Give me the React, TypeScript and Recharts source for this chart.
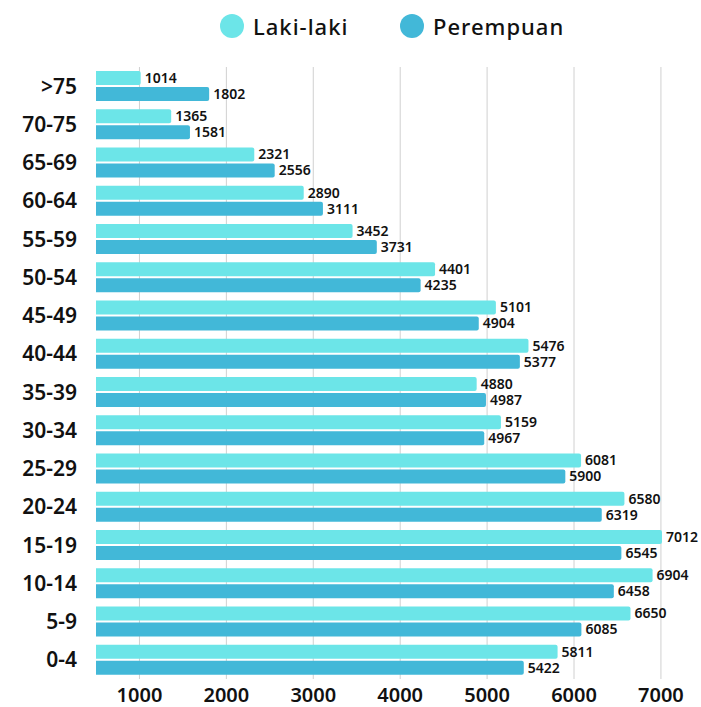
import React from "react";
import { BarChart, Bar, XAxis, YAxis, CartesianGrid, Legend, LabelList } from "recharts";

const categories = [">75", "70-75", "65-69", "60-64", "55-59", "50-54", "45-49", "40-44", "35-39", "30-34", "25-29", "20-24", "15-19", "10-14", "5-9", "0-4"];
const lakiLaki = [1014, 1365, 2321, 2890, 3452, 4401, 5101, 5476, 4880, 5159, 6081, 6580, 7012, 6904, 6650, 5811];
const perempuan = [1802, 1581, 2556, 3111, 3731, 4235, 4904, 5377, 4987, 4967, 5900, 6319, 6545, 6458, 6085, 5422];
const xTicks = [1000, 2000, 3000, 4000, 5000, 6000, 7000];

const data = categories.map((c, i) => ({ name: c, laki: lakiLaki[i], perempuan: perempuan[i] }));

const FONT = "'Noto Sans', sans-serif";
const LAKI_COLOR = "#6CE5E8";
const PEREMPUAN_COLOR = "#42B8D8";

const renderLegend = () => (
  <div style={{ position: "relative", fontFamily: FONT, fontSize: 22, fontWeight: 500, letterSpacing: 1, color: "#111", height: 50, width: 701 }}>
    <span style={{ position: "absolute", left: 220, top: 13, display: "inline-flex", alignItems: "center" }}>
      <span style={{ width: 24, height: 24, borderRadius: 12, background: LAKI_COLOR, marginRight: 9 }} />
      <span style={{ lineHeight: "26px" }}>Laki-laki</span>
    </span>
    <span style={{ position: "absolute", left: 400, top: 13, display: "inline-flex", alignItems: "center" }}>
      <span style={{ width: 24, height: 24, borderRadius: 12, background: PEREMPUAN_COLOR, marginRight: 9 }} />
      <span style={{ lineHeight: "26px" }}>Perempuan</span>
    </span>
  </div>
);

export default function App() {
  return (
    <div style={{ position: "absolute", left: 0, top: 0, background: "#fff" }}>
      <BarChart
        width={701}
        height={707}
        data={data}
        layout="vertical"
        margin={{ top: 17, right: 14, bottom: 0, left: 0 }}
        barCategoryGap={4}
        barGap={2}
      >
        <CartesianGrid horizontal={false} stroke="#d0d0d0" verticalValues={xTicks} />
        <XAxis
          type="number"
          domain={[500, 7300]}
          ticks={xTicks}
          axisLine={false}
          tickLine={false}
          height={28}
          tickMargin={3}
          tick={{ fontFamily: FONT, fontSize: 20, fontWeight: 600, fill: "#111" }}
        />
        <YAxis
          type="category"
          dataKey="name"
          width={96}
          axisLine={false}
          tickLine={false}
          tickMargin={13}
          tick={{ fontFamily: FONT, fontSize: 21, fontWeight: 600, fill: "#111" }}
        />
        <Legend verticalAlign="top" content={renderLegend} wrapperStyle={{ top: 0, left: 0, width: 701, height: 50 }} />
        <Bar dataKey="laki" name="Laki-laki" fill={LAKI_COLOR} isAnimationActive={false} radius={[0, 2, 2, 0]}>
          <LabelList dataKey="laki" position="right" offset={4} style={{ fontFamily: FONT, fontSize: 14, fontWeight: 600, fill: "#111" }} />
        </Bar>
        <Bar dataKey="perempuan" name="Perempuan" fill={PEREMPUAN_COLOR} isAnimationActive={false} radius={[0, 2, 2, 0]}>
          <LabelList dataKey="perempuan" position="right" offset={4} style={{ fontFamily: FONT, fontSize: 14, fontWeight: 600, fill: "#111" }} />
        </Bar>
      </BarChart>
    </div>
  );
}
